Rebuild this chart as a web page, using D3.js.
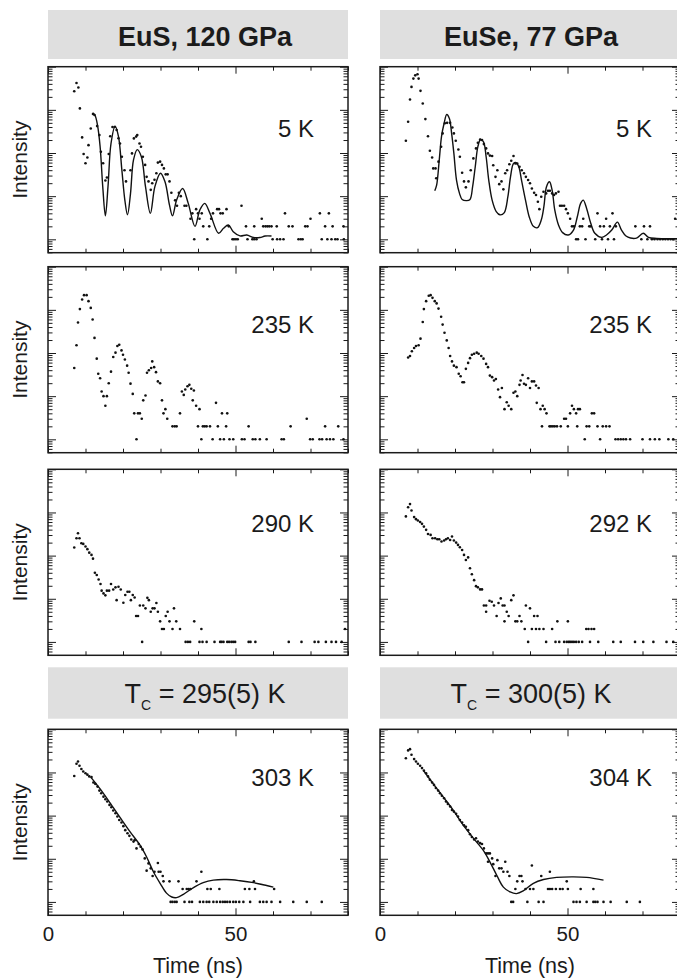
<!DOCTYPE html>
<html>
<head>
<meta charset="utf-8">
<script src="https://cdn.jsdelivr.net/npm/d3@7"></script>
<style>
  body { margin: 0; background: #fff; }
  svg { display: block; font-family: "Liberation Sans", Arial, Helvetica, sans-serif; }
</style>
</head>
<body>
<svg id="chart" width="677" height="980"></svg>
<script>
// ---- data: time in ns, intensity in counts (log axis) ----
const timeTicks = [0, 10, 20, 30, 40, 50, 60, 70, 80];
const timeMajor = [0, 50];
const decadeTicks = [1, 10, 100, 1000, 10000];
const columnTitles = ["EuS, 120 GPa", "EuSe, 77 GPa"];
const tcValues = ["295(5) K", "300(5) K"];
const tempLabels = [["5 K", "235 K", "290 K", "303 K"], ["5 K", "235 K", "292 K", "304 K"]];

const eus5Dots = [[7.0,2700],[7.6,4200],[8.1,3300],[8.5,1080],[9.1,230],[9.5,95],[10.0,58],[10.5,79],[10.8,152],[11.4,370],[12.0,800],[12.4,760],[13.1,420],[13.7,260],[14.1,107],[14.7,58],[15.3,23],[15.7,27],[16.2,95],[16.6,245],[17.2,400],[17.8,400],[18.3,340],[18.8,220],[19.2,166],[19.7,82],[20.4,40],[20.8,22],[22.0,40],[22.4,98],[22.9,218],[23.5,240],[23.8,260],[24.4,166],[24.8,140],[25.3,82],[25.9,53],[26.3,28],[26.8,22],[27.4,14],[27.8,20],[28.4,24],[28.9,34],[29.3,60],[29.9,63],[30.4,53],[30.9,44],[31.4,32],[31.9,32],[32.4,22],[32.9,12],[33.9,8],[34.4,6],[34.9,12],[35.4,10],[36.4,6],[36.9,6],[38.0,3],[38.5,4],[39.0,1],[39.5,5],[40.0,4],[40.4,3],[41.0,4],[41.4,2],[42.5,1],[43.0,2],[43.5,3],[44.0,4],[45.1,5],[45.6,5],[46.0,4],[46.6,4],[47.6,5],[48.2,2],[49.2,1],[49.6,1],[50.1,1],[50.6,1],[51.6,6],[52.8,2],[53.2,1],[54.5,1],[55.0,1],[55.0,2],[55.6,1],[57.0,3],[57.4,2],[58.0,2],[58.5,2],[59.0,2],[59.6,2],[59.9,1],[61.0,2],[61.1,1],[61.9,1],[62.8,1],[63.2,4],[64.2,2],[65.2,2],[66.8,1],[67.4,1],[67.9,1],[68.6,2],[69.2,2],[70.0,3],[72.5,4],[73.0,1],[73.9,2],[74.5,1],[74.9,4],[75.6,1],[75.9,2],[76.6,1],[77.2,1],[78.8,2],[78.9,1]];
const eus5Fit = [[11.9,850],[12.5,760],[13.2,445],[13.9,140],[14.6,16.6],[15.3,3.5],[16.0,16.6],[16.8,166],[17.9,420],[18.8,240],[19.7,40],[20.5,8],[21.2,3.7],[22.0,11.5],[22.8,69],[23.8,120],[24.9,82],[26.0,16.6],[27.3,4],[28.5,16.6],[30.0,34],[31.2,21.6],[32.4,6.2],[33.2,3.5],[34.3,8.1],[35.9,15],[37.4,6.8],[39.2,2],[40.5,4.8],[41.8,6.8],[43.2,4],[45.5,1.38],[46.8,1.8],[48.1,2.15],[49.4,1.5],[51.2,1.2],[53.0,1.26],[54.8,1.1],[56.5,1.1],[57.9,1.19],[59.6,1.19]];

const euse5Dots = [[6.9,192],[7.5,530],[8.0,1740],[8.4,3400],[8.9,5300],[9.4,6300],[10.0,6700],[10.3,5300],[10.8,2760],[11.4,1400],[12.1,610],[12.8,245],[13.3,113],[13.9,79],[14.2,44],[14.8,44],[15.0,26],[15.6,63],[16.3,140],[16.7,285],[17.3,490],[17.9,500],[18.7,500],[19.3,390],[19.7,285],[20.2,192],[20.9,121],[21.3,82],[21.9,35],[22.4,22],[22.9,16],[23.6,22],[24.2,40],[24.9,75],[25.6,128],[26.1,173],[26.7,206],[27.2,200],[27.7,161],[28.3,128],[28.8,98],[29.3,87],[29.9,85],[30.2,52],[30.8,28],[31.3,40],[31.8,19],[32.4,22],[32.9,14.4],[33.4,34],[33.9,40],[34.5,55],[35.0,66],[35.6,85],[36.1,57],[36.6,57],[37.2,48],[37.8,40],[38.4,34],[38.9,28],[39.5,23.6],[40.0,20],[40.5,15],[41.1,12],[41.6,10.6],[42.1,7.4],[42.5,5],[43.0,9.7],[43.6,12.7],[44.3,11.6],[44.8,13.4],[45.3,13.4],[45.9,11.6],[46.4,10.6],[46.9,11.6],[47.6,12.7],[48.0,6],[48.5,6],[49.1,6],[49.6,5],[50.1,4],[50.7,3],[51.2,2],[51.7,2],[52.3,1],[52.8,1],[53.3,2],[53.9,2],[54.2,3],[54.8,1],[55.8,2],[56.2,2],[57.4,1],[58.0,4],[58.7,2],[59.2,1],[59.7,2],[60.3,3],[60.8,1],[61.3,2],[62.0,4],[62.4,1],[62.9,2],[68.1,2],[69.7,1],[70.4,2],[71.3,1],[72.0,2],[72.5,1],[73.2,1],[74.0,1],[74.7,1],[75.4,1],[76.1,1],[76.8,1],[77.5,1],[78.2,1],[78.7,3]];
const euse5Fit = [[14.6,13.4],[15.1,18],[15.8,69],[16.4,240],[17.1,490],[17.8,780],[18.5,630],[19.1,285],[19.7,98],[20.4,23.6],[21.2,11.6],[21.9,8.4],[23.1,7.9],[24.0,8.4],[24.7,16.6],[25.4,48],[26.1,140],[26.8,206],[27.6,182],[28.3,82],[29.0,23.6],[29.9,8.1],[31.0,4.4],[32.0,3.7],[33.1,4.1],[34.1,9.7],[34.8,28],[35.6,57],[36.3,60],[37.0,48],[37.8,22],[38.8,8.1],[39.8,3.3],[40.9,2],[42.0,1.86],[43.0,2.8],[43.7,5.7],[44.4,16.6],[45.2,21.6],[45.9,13.8],[46.6,4.8],[47.6,2.15],[48.7,1.43],[50.2,1.26],[51.6,1.64],[52.6,3.3],[53.5,6.8],[54.2,8.1],[55.1,5.2],[56.2,2.35],[57.3,1.38],[59.1,1.11],[60.4,1.26],[61.8,1.64],[63.3,2.5],[64.4,1.64],[65.6,1.19],[66.8,1.07],[68.4,1.07],[70.2,1.38],[71.6,1.11],[73.8,1.05],[79.5,1.04]];

const eus235Dots = [[7.0,45],[7.6,151],[8.0,510],[8.5,1040],[9.1,1740],[9.6,2190],[10.3,2190],[10.8,1590],[11.4,1110],[11.9,600],[12.4,224],[13.0,74],[13.4,33],[13.9,26],[14.3,12.8],[14.8,10],[15.3,6],[15.7,10],[16.2,20],[16.8,37],[17.4,81],[18.0,102],[18.5,145],[19.0,155],[19.6,115],[20.0,91],[20.5,71],[21.1,51],[21.5,35],[22.0,19.5],[22.6,11.3],[23.0,4],[23.6,1],[24.0,4],[24.5,4],[25.0,3],[25.4,8],[26.0,10.4],[26.4,35],[26.9,40],[27.5,45],[27.8,64],[28.3,47],[28.8,36],[29.3,22],[29.9,20],[30.4,8],[30.8,4],[31.3,5],[31.8,3],[33.2,2],[33.8,2],[34.3,2],[35.2,4],[35.7,12.8],[36.2,10.7],[36.6,14.3],[37.2,17],[37.7,18.3],[38.2,14.8],[38.9,13.5],[38.6,8],[39.5,6],[40.4,5],[40.0,2],[40.9,1],[41.3,2],[41.8,2],[42.3,2],[43.2,2],[43.9,1],[44.8,7],[45.3,2],[45.9,1],[46.4,4],[46.9,1],[47.5,2],[47.8,4],[48.4,1],[49.4,1],[51.7,1],[52.4,1],[53.5,2],[54.6,1],[55.3,1],[56.5,1],[58.3,1],[62.3,1],[62.9,1],[64.7,2],[69.0,3],[69.9,1],[70.6,1],[72.4,1],[73.1,1],[73.9,2],[74.3,1],[75.2,1],[76.1,1],[77.4,2],[78.8,1]];

const euse235Dots = [[7.5,79],[8.0,85],[8.5,110],[9.1,131],[9.6,145],[10.3,151],[10.8,215],[11.4,525],[11.7,1040],[12.3,1590],[13.0,2130],[13.5,2190],[14.0,1900],[14.6,1590],[15.1,1410],[15.6,1070],[16.3,690],[16.7,455],[17.2,295],[17.8,196],[18.3,131],[18.7,85],[19.2,64],[19.7,51],[20.4,47],[21.0,33],[21.5,29],[22.0,21],[22.4,21],[22.9,43],[23.5,59],[24.0,76],[24.5,91],[25.1,96],[25.8,102],[26.3,96],[27.0,85],[27.6,74],[28.3,56],[28.8,47],[29.3,30],[29.9,27.6],[30.4,23],[30.9,25],[31.5,14.3],[32.0,9.5],[32.5,15.4],[33.2,5],[33.8,7.2],[34.3,6],[35.0,5],[35.6,12],[36.1,12.8],[36.6,10],[37.2,18.3],[37.5,23],[38.0,31],[38.4,19.4],[38.9,18.3],[39.5,26],[40.0,15.4],[40.5,22],[41.1,22],[41.6,17.7],[42.3,15.4],[41.8,7],[42.8,5],[43.4,6],[43.9,5],[44.4,4],[43.2,2],[45.2,2],[45.6,2],[46.1,2],[46.6,2],[47.2,2],[48.2,2],[49.1,3],[49.6,3],[50.1,2],[50.7,4],[51.2,6],[51.7,5],[52.3,4],[52.8,5],[53.3,5],[52.6,2],[54.6,1],[55.1,2],[55.8,2],[56.5,4],[57.1,4],[58.0,2],[58.7,1],[59.4,2],[60.3,2],[61.2,2],[62.8,1],[63.5,1],[64.2,1],[64.9,1],[65.6,1],[66.7,1],[70.0,1],[72.0,1],[73.3,1],[74.5,1],[76.9,1],[78.2,1]];

const eus290Dots = [[7.0,154],[7.6,252],[8.0,330],[8.4,252],[8.9,194],[9.4,187],[10.0,162],[10.5,141],[11.0,117],[11.6,104],[12.0,85],[12.5,40],[13.0,35.5],[13.5,28],[14.0,22],[14.3,15.4],[14.8,13.3],[15.3,12],[15.7,15.4],[16.3,15.4],[16.8,22],[17.4,16.4],[18.0,18.4],[18.3,9.3],[18.8,19],[19.4,16.4],[20.1,8.1],[20.6,12.2],[21.2,14.5],[21.7,14.5],[22.1,9.3],[22.6,12.2],[23.1,10.7],[23.5,4],[24.0,4],[24.5,7],[25.1,1],[25.4,7],[26.0,6],[26.5,10.5],[26.9,9.3],[27.4,5],[27.9,6],[28.4,6],[28.9,8],[29.3,5],[29.9,3],[30.4,2],[30.9,2],[31.4,4],[31.9,5],[32.4,3],[33.2,2],[33.6,6],[34.2,3],[35.2,2],[36.7,1],[37.3,1],[37.9,1],[39.0,3],[40.4,1],[40.9,2],[41.2,1],[42.3,1],[44.4,1],[45.9,1],[46.3,1],[46.8,1],[47.8,1],[48.3,1],[48.9,1],[49.4,1],[49.9,1],[53.5,1],[54.0,1],[55.3,1],[64.2,1],[67.6,1],[71.1,1],[72.1,1],[74.1,1],[75.6,1],[76.8,1],[78.3,1],[79.2,2]];

const euse292Dots = [[6.9,810],[7.5,1320],[8.0,1560],[8.4,1110],[9.1,780],[9.6,700],[10.1,650],[10.7,600],[11.2,545],[11.7,470],[12.3,395],[12.8,318],[13.5,302],[14.0,252],[14.7,252],[15.3,240],[15.8,240],[16.4,212],[17.1,224],[17.6,240],[18.1,252],[18.7,230],[19.2,278],[19.7,224],[20.3,200],[20.8,177],[21.3,156],[21.9,135],[22.4,104],[22.9,79],[23.5,91],[24.0,51],[24.5,37],[25.1,27],[25.6,19.6],[26.1,18.4],[26.7,16.5],[27.2,16.5],[27.7,7],[28.3,7],[28.3,5],[29.2,9],[29.8,8.5],[30.4,7],[31.1,4],[31.6,8],[32.2,10.2],[32.7,7],[33.2,7],[33.2,3],[33.8,5],[34.3,4],[35.0,9.3],[35.6,12],[36.1,3],[36.6,3],[37.2,4],[37.7,3],[38.6,2],[38.9,7],[39.5,1],[40.0,6],[40.5,2],[41.1,4],[41.6,2],[42.0,4],[42.5,2],[43.6,2],[44.3,1],[45.9,2],[46.8,1],[47.3,3],[47.8,1],[49.1,1],[49.8,1],[50.1,3],[50.3,1],[50.7,1],[51.2,1],[51.7,1],[52.3,1],[53.0,1],[53.9,1],[55.0,2],[55.6,2],[56.0,1],[56.4,2],[57.1,2],[58.2,1],[62.2,1],[64.2,1],[68.0,1],[70.2,1],[72.9,1],[76.4,1],[78.2,1]];

const eus303Dots = [[7.0,830],[7.6,1590],[8.0,1800],[8.4,1430],[8.9,1200],[9.4,1050],[10.0,960],[10.5,890],[11.0,810],[11.6,780],[12.1,585],[12.6,545],[13.2,470],[13.7,380],[14.2,330],[14.8,275],[15.3,240],[15.8,212],[16.4,177],[16.9,156],[17.4,131],[18.0,113],[18.5,95],[19.0,79],[19.6,69],[20.1,57],[20.6,46],[21.2,39],[21.7,34],[22.2,28],[22.8,25],[23.1,27],[23.6,17.4],[24.2,22],[24.7,19],[25.2,16.5],[25.8,10.2],[26.3,5.3],[26.8,7.8],[27.4,6],[27.9,4],[28.4,5],[29.3,8],[29.5,5],[30.0,5],[30.6,4],[30.8,3],[32.4,3],[32.7,1],[33.2,1],[33.8,1],[34.3,1],[34.8,3],[35.9,2],[36.4,1],[37.0,2],[37.5,2],[38.0,2],[37.7,1],[38.4,1],[39.6,3],[40.5,1],[40.9,5],[41.4,1],[42.3,1],[43.0,1],[42.5,2],[43.4,2],[44.1,1],[45.0,1],[45.9,1],[46.6,1],[47.2,1],[47.8,1],[48.5,1],[45.7,2],[49.4,1],[50.1,1],[51.0,1],[52.1,1],[53.9,1],[52.5,2],[53.7,2],[55.2,2],[54.9,3],[56.5,1],[57.4,1],[58.3,1],[59.6,1],[61.9,1],[65.4,1],[69.0,1],[73.0,1],[60.3,2]];
const eus303Fit = [[11.4,780],[13.9,415],[16.5,200],[19.2,91],[21.9,42],[24.5,21],[26.3,11],[28.1,5],[29.9,2.7],[31.6,1.6],[33.0,1.3],[34.3,1.26],[36.1,1.5],[38.8,2.15],[41.4,2.8],[44.1,3.2],[47.6,3.3],[51.2,3.1],[54.8,2.8],[58.3,2.4],[60.1,2.2]];

const euse304Dots = [[6.9,2140],[7.5,3240],[8.0,3470],[8.4,2570],[9.1,2040],[9.6,1800],[10.1,1590],[10.7,1430],[11.2,1260],[11.7,1110],[12.3,960],[12.8,810],[13.3,675],[13.9,585],[14.4,515],[14.9,435],[15.5,380],[16.0,330],[16.5,288],[17.1,252],[17.6,212],[18.1,187],[18.7,162],[19.2,135],[19.7,124],[20.3,110],[20.8,95],[21.3,79],[21.9,69],[22.4,60],[22.9,55],[23.5,46],[24.0,37],[24.5,32],[25.1,28],[25.6,30],[26.1,25],[26.7,23],[27.2,22],[27.7,17.4],[28.3,13.3],[28.8,13.3],[29.3,13.3],[28.8,8.5],[29.9,10.2],[30.2,7.5],[30.8,4],[31.3,9.3],[31.8,6],[32.4,6],[32.9,5],[33.4,8.5],[34.0,5],[34.5,4],[35.0,1],[35.5,1],[36.1,2],[36.6,3],[37.2,4],[37.7,4],[38.0,3],[38.8,2],[39.3,1],[40.0,2],[40.5,7],[40.9,2],[42.3,1],[43.0,4],[43.6,1],[44.8,2],[45.3,2],[45.9,2],[46.9,2],[48.0,2],[48.7,2],[50.1,2],[45.3,5],[49.8,3],[51.6,1],[52.4,1],[53.3,1],[55.1,1],[56.9,1],[57.4,1],[58.0,1],[59.6,1],[61.5,1],[65.8,1],[69.3,1],[53.5,2],[56.9,2]];
const euse304Fit = [[11.6,1110],[14.2,545],[16.9,268],[19.6,131],[22.2,60],[24.9,30],[27.6,15.4],[29.3,8.5],[31.1,4.2],[32.9,2.2],[34.7,1.7],[36.4,1.56],[38.2,1.8],[40.9,2.7],[43.6,3.3],[47.1,3.7],[51.6,3.8],[55.1,3.7],[59.6,3.2]];

// panel table built from the arrays above
const panels = [
  {col: 0, row: 0, dots: eus5Dots, fit: eus5Fit},
  {col: 1, row: 0, dots: euse5Dots, fit: euse5Fit},
  {col: 0, row: 1, dots: eus235Dots, fit: null},
  {col: 1, row: 1, dots: euse235Dots, fit: null},
  {col: 0, row: 2, dots: eus290Dots, fit: null},
  {col: 1, row: 2, dots: euse292Dots, fit: null},
  {col: 0, row: 3, dots: eus303Dots, fit: eus303Fit},
  {col: 1, row: 3, dots: euse304Dots, fit: euse304Fit}
];

// ---- layout ----
const colX = [48, 380];
const panelW = 300, panelH = 186;
const rowY = [66.7, 266.7, 469.3, 729.3];
const headers = [{y: 10, h: 49}, {y: 667.3, h: 51.4}];
const titleX = [205, 531];
const labelX = [314, 652];
const labelDy = [70, 66.7, 62.4, 56.7];
const ink = "#1b1b1b";

const svg = d3.select("#chart");

// minor log ticks 2..9 per decade
const yDomain = [Math.pow(10, -0.31), 1e4];
const minorTicks = [];
for (let k = -1; k <= 3; k++) {
  for (let m = 2; m <= 9; m++) {
    const v = m * Math.pow(10, k);
    if (v >= yDomain[0] && v <= yDomain[1]) minorTicks.push(v);
  }
}
const minorTime = timeTicks.filter(t => timeMajor.indexOf(t) < 0);

function tickAxis(g, axis) {
  g.call(axis);
  g.select(".domain").remove();
  g.selectAll("line").attr("stroke", ink).attr("stroke-width", 1);
}

// headers
headers.forEach(hd => {
  colX.forEach(x0 => {
    svg.append("rect")
      .attr("x", x0).attr("y", hd.y)
      .attr("width", panelW).attr("height", hd.h)
      .attr("fill", "#dfdfdf");
  });
});

columnTitles.forEach((t, c) => {
  svg.append("text")
    .attr("x", titleX[c]).attr("y", 45.7)
    .attr("text-anchor", "middle")
    .attr("font-size", 27).attr("font-weight", "bold")
    .attr("fill", ink)
    .text(t);
});

tcValues.forEach((t, c) => {
  const txt = svg.append("text")
    .attr("x", titleX[c]).attr("y", 703.3)
    .attr("text-anchor", "middle")
    .attr("font-size", 27)
    .attr("fill", ink);
  txt.append("tspan").text("T");
  txt.append("tspan").attr("font-size", 14).attr("dy", 6.5).text("C");
  txt.append("tspan").attr("dy", -6.5).text(" = " + t);
});

// panels
panels.forEach(p => {
  const x0 = colX[p.col], y0 = rowY[p.row];
  const x = d3.scaleLinear().domain([0, 80]).range([x0, x0 + panelW]);
  const y = d3.scaleLog().domain(yDomain).range([y0 + panelH, y0]);

  const g = svg.append("g");

  // inward ticks on all four sides
  tickAxis(g.append("g").attr("transform", `translate(${x0},0)`),
    d3.axisLeft(y).tickValues(decadeTicks).tickSize(-8).tickFormat(""));
  tickAxis(g.append("g").attr("transform", `translate(${x0},0)`),
    d3.axisLeft(y).tickValues(minorTicks).tickSize(-4.5).tickFormat(""));
  tickAxis(g.append("g").attr("transform", `translate(${x0 + panelW},0)`),
    d3.axisRight(y).tickValues(decadeTicks).tickSize(-8).tickFormat(""));
  tickAxis(g.append("g").attr("transform", `translate(${x0 + panelW},0)`),
    d3.axisRight(y).tickValues(minorTicks).tickSize(-4.5).tickFormat(""));
  tickAxis(g.append("g").attr("transform", `translate(0,${y0})`),
    d3.axisTop(x).tickValues(timeMajor).tickSize(-7).tickFormat(""));
  tickAxis(g.append("g").attr("transform", `translate(0,${y0})`),
    d3.axisTop(x).tickValues(minorTime).tickSize(-4).tickFormat(""));
  tickAxis(g.append("g").attr("transform", `translate(0,${y0 + panelH})`),
    d3.axisBottom(x).tickValues(timeMajor).tickSize(-7).tickFormat(""));
  tickAxis(g.append("g").attr("transform", `translate(0,${y0 + panelH})`),
    d3.axisBottom(x).tickValues(minorTime).tickSize(-4).tickFormat(""));

  // frame
  g.append("rect")
    .attr("x", x0).attr("y", y0)
    .attr("width", panelW).attr("height", panelH)
    .attr("fill", "none").attr("stroke", ink).attr("stroke-width", 1.5);

  // fit curve
  if (p.fit) {
    g.append("path")
      .datum(p.fit)
      .attr("fill", "none")
      .attr("stroke", "#111")
      .attr("stroke-width", 1.4)
      .attr("d", d3.line()
        .x(d => x(d[0]))
        .y(d => y(d[1]))
        .curve(d3.curveCatmullRom.alpha(0.5)));
  }

  // measured counts
  g.append("g").selectAll("circle")
    .data(p.dots)
    .join("circle")
    .attr("cx", d => x(d[0]))
    .attr("cy", d => y(d[1]))
    .attr("r", 1.3)
    .attr("fill", "#111");

  // temperature label
  g.append("text")
    .attr("x", labelX[p.col]).attr("y", y0 + labelDy[p.row])
    .attr("text-anchor", "end")
    .attr("font-size", 24)
    .attr("fill", ink)
    .text(tempLabels[p.col][p.row]);

  // y label on the left column
  if (p.col === 0) {
    g.append("text")
      .attr("transform", `translate(27,${y0 + panelH / 2}) rotate(-90)`)
      .attr("text-anchor", "middle")
      .attr("font-size", 21)
      .attr("fill", ink)
      .text("Intensity");
  }

  // time labels on the bottom row
  if (p.row === 3) {
    const ax = g.append("g")
      .attr("transform", `translate(0,${y0 + panelH})`)
      .call(d3.axisBottom(x).tickValues(timeMajor).tickSize(0).tickPadding(11).tickFormat(d3.format("d")));
    ax.select(".domain").remove();
    ax.selectAll("text")
      .attr("font-size", 20.5)
      .attr("font-family", "'Liberation Sans', Arial, sans-serif")
      .attr("fill", ink);
    g.append("text")
      .attr("x", x0 + panelW / 2).attr("y", 973)
      .attr("text-anchor", "middle")
      .attr("font-size", 21.5)
      .attr("fill", ink)
      .text("Time (ns)");
  }
});
</script>
</body>
</html>
